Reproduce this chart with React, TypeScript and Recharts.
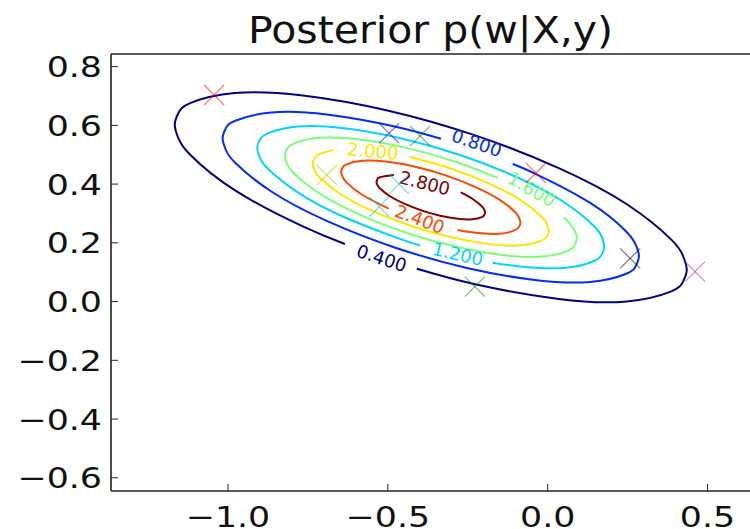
import React from 'react';
import { ComposedChart, Line, Scatter, XAxis, YAxis } from 'recharts';

// contour points, read along each line from one side of its label gap to the other
const c040 = [
  [-0.6344, 0.1959], [-0.7661, 0.2562], [-0.9791, 0.3793], [-1.1182, 0.4997], [-1.1543, 0.5541],
  [-1.1665, 0.6026], [-1.1543, 0.6435], [-1.1182, 0.6757], [-0.9791, 0.7101], [-0.7661, 0.7018],
  [-0.5047, 0.6516], [-0.2267, 0.5658], [0.0347, 0.4544], [0.2477, 0.3313], [0.3868, 0.2109],
  [0.4229, 0.1565], [0.4351, 0.108], [0.4229, 0.0671], [0.3868, 0.0349], [0.2477, 0.0005],
  [0.0347, 0.0088], [-0.2267, 0.059], [-0.409, 0.1118],
];
const c080 = [
  [-0.1093, 0.4684], [-0.0402, 0.4359], [0.133, 0.3358], [0.2461, 0.2379], [0.2754, 0.1937],
  [0.2854, 0.1542], [0.2754, 0.121], [0.2461, 0.0948], [0.133, 0.0668], [-0.0402, 0.0736],
  [-0.2527, 0.1144], [-0.4787, 0.1842], [-0.6912, 0.2747], [-0.8644, 0.3748], [-0.9775, 0.4727],
  [-1.0068, 0.5169], [-1.0168, 0.5564], [-1.0068, 0.5896], [-0.9775, 0.6158], [-0.8644, 0.6438],
  [-0.6912, 0.637], [-0.4787, 0.5962], [-0.3339, 0.5544],
];
const c120 = [
  [-0.3998, 0.1917], [-0.4599, 0.2126], [-0.6372, 0.2881], [-0.7816, 0.3716], [-0.8759, 0.4532],
  [-0.9004, 0.4901], [-0.9086, 0.523], [-0.9004, 0.5507], [-0.8759, 0.5725], [-0.7816, 0.5959],
  [-0.6372, 0.5902], [-0.4599, 0.5562], [-0.2715, 0.498], [-0.0942, 0.4225], [0.0502, 0.339],
  [0.1445, 0.2574], [0.169, 0.2205], [0.1772, 0.1876], [0.169, 0.1599], [0.1445, 0.1381],
  [0.0502, 0.1147], [-0.0942, 0.1204], [-0.1721, 0.1325],
];
const c160 = [
  [0.0503, 0.2872], [0.0632, 0.273], [0.0838, 0.242], [0.0908, 0.2143], [0.0838, 0.191],
  [0.0632, 0.1727], [-0.0161, 0.1531], [-0.1375, 0.1578], [-0.2865, 0.1864], [-0.4449, 0.2353],
  [-0.5939, 0.2988], [-0.7153, 0.369], [-0.7946, 0.4376], [-0.8152, 0.4686], [-0.8222, 0.4963],
  [-0.8152, 0.5196], [-0.7946, 0.5379], [-0.7153, 0.5575], [-0.5939, 0.5528], [-0.4449, 0.5242],
  [-0.2865, 0.4753], [-0.1563, 0.421],
];
const c200 = [
  [-0.4314, 0.4923], [-0.3016, 0.4523], [-0.1811, 0.401], [-0.0829, 0.3442], [-0.0188, 0.2887],
  [-0.0022, 0.2637], [0.0035, 0.2413], [-0.0022, 0.2224], [-0.0188, 0.2076], [-0.0829, 0.1917],
  [-0.1811, 0.1956], [-0.3016, 0.2187], [-0.4298, 0.2583], [-0.5503, 0.3096], [-0.6485, 0.3664],
  [-0.7126, 0.4219], [-0.7292, 0.4469], [-0.7349, 0.4693], [-0.7292, 0.4882], [-0.7126, 0.503],
  [-0.6692, 0.5166],
];
const c240 = [
  [-0.4973, 0.3164], [-0.5804, 0.3637], [-0.6291, 0.4058], [-0.6417, 0.4249], [-0.646, 0.4419],
  [-0.6417, 0.4562], [-0.6291, 0.4674], [-0.5804, 0.4795], [-0.5058, 0.4766], [-0.4144, 0.459],
  [-0.317, 0.429], [-0.2256, 0.39], [-0.151, 0.3469], [-0.1023, 0.3048], [-0.0897, 0.2857],
  [-0.0854, 0.2687], [-0.0897, 0.2544], [-0.1023, 0.2432], [-0.151, 0.2311], [-0.2256, 0.234],
  [-0.2814, 0.2434],
];
const c280 = [
  [-0.272, 0.3719], [-0.2357, 0.3502], [-0.2062, 0.3247], [-0.1985, 0.3132], [-0.1959, 0.3029],
  [-0.1985, 0.2942], [-0.2062, 0.2874], [-0.2357, 0.2801], [-0.2808, 0.2818], [-0.3362, 0.2925],
  [-0.3952, 0.3107], [-0.4506, 0.3343], [-0.4957, 0.3604], [-0.5252, 0.3859], [-0.5329, 0.3974],
  [-0.5355, 0.4077], [-0.5329, 0.4164], [-0.5252, 0.4232], [-0.4813, 0.4309],
];

const levelNames = ['0.400', '0.800', '1.200', '1.600', '2.000', '2.400', '2.800'];
const levelColors = ['#000080', '#002aff', '#00d4ff', '#7bff7b', '#ffe600', '#ff4800', '#800000'];
const levelPaths = [c040, c080, c120, c160, c200, c240, c280];

// inline label positions
const labelX = [-0.519, -0.2218, -0.2812, -0.0498, -0.547, -0.4, -0.3844];
const labelY = [0.148, 0.54, 0.162, 0.383, 0.513, 0.281, 0.4037];
const labelAngle = [18, 19, 13, 30, 5, 21, 14];

// posterior samples
const sampleX = [-1.0435, -0.496, -0.399, -0.037, -0.691, -0.465, -0.527, 0.258, 0.461, -0.228];
const sampleY = [0.7032, 0.573, 0.564, 0.438, 0.431, 0.4, 0.323, 0.147, 0.102, 0.051];
const sampleColors = ['#ff0000', '#0000ff', '#008000', '#ff0000', '#bfbf00', '#00bfbf', '#00bfbf', '#000000', '#bf00bf', '#008000'];

const xTicks = [-1.0, -0.5, 0.0, 0.5];
const yTicks = [-0.6, -0.4, -0.2, 0.0, 0.2, 0.4, 0.6, 0.8];

const FONT = '"DejaVu Sans", sans-serif';

const fmt = (v: number) => (v < 0 ? '\u2212' : '') + Math.abs(v).toFixed(1);

const contours = levelPaths.map((pts, i) => ({
  name: levelNames[i],
  color: levelColors[i],
  data: pts.map(([x, y]) => ({ x, y })),
}));

const labels = levelNames.map((text, i) => ({
  x: labelX[i],
  y: labelY[i],
  text,
  angle: labelAngle[i],
  color: levelColors[i],
}));

const samples = sampleX.map((x, i) => ({ x, y: sampleY[i], color: sampleColors[i] }));

function LeftTick(props: any) {
  const { x, y, payload } = props;
  return (
    <text
      transform={`translate(${x},${y + 10.5}) scale(1.2,1)`}
      textAnchor="end"
      fontSize={29}
      fontFamily={FONT}
      fill="#111"
    >
      {fmt(payload.value)}
    </text>
  );
}

function BottomTick(props: any) {
  const { x, y, payload } = props;
  return (
    <text
      transform={`translate(${x},${y + 43}) scale(1.2,1)`}
      textAnchor="middle"
      fontSize={29}
      fontFamily={FONT}
      fill="#111"
    >
      {fmt(payload.value)}
    </text>
  );
}

function Cross(props: any) {
  const { cx, cy, payload } = props;
  const r = 10;
  return (
    <g stroke={payload.color} strokeWidth={1.3} strokeOpacity={0.5}>
      <line x1={cx - r} y1={cy - r} x2={cx + r} y2={cy + r} />
      <line x1={cx - r} y1={cy + r} x2={cx + r} y2={cy - r} />
    </g>
  );
}

function ContourLabel(props: any) {
  const { cx, cy, payload } = props;
  return (
    <text
      transform={`translate(${cx},${cy}) rotate(${payload.angle})`}
      textAnchor="middle"
      dominantBaseline="central"
      fontSize={18}
      fontFamily={FONT}
      fill={payload.color}
    >
      {payload.text}
    </text>
  );
}

const axisStroke = { stroke: '#222', strokeWidth: 1.6 };
const tickStroke = { stroke: '#222', strokeWidth: 1 };

export default function App() {
  return (
    <div
      style={{
        position: 'fixed',
        left: 0,
        top: 0,
        width: 750,
        height: 529,
        overflow: 'hidden',
        background: '#fff',
      }}
    >
      <ComposedChart width={760} height={529} margin={{ top: 0, right: 0, bottom: 0, left: 0 }}>
        <XAxis
          dataKey="x"
          type="number"
          domain={[-1.366, 0.636]}
          allowDataOverflow
          ticks={xTicks}
          interval={0}
          height={38}
          tickSize={-7}
          tickMargin={0}
          tick={BottomTick}
          axisLine={axisStroke}
          tickLine={tickStroke}
        />
        <XAxis
          xAxisId="top"
          orientation="top"
          type="number"
          domain={[-1.366, 0.636]}
          allowDataOverflow
          ticks={xTicks}
          interval={0}
          height={54}
          tickSize={-7}
          tick={false}
          axisLine={axisStroke}
          tickLine={tickStroke}
        />
        <YAxis
          dataKey="y"
          type="number"
          domain={[-0.645, 0.843]}
          allowDataOverflow
          ticks={yTicks}
          interval={0}
          width={111}
          tickSize={-7}
          tickMargin={16}
          tick={LeftTick}
          axisLine={axisStroke}
          tickLine={tickStroke}
        />
        <YAxis
          yAxisId="right"
          orientation="right"
          type="number"
          domain={[-0.645, 0.843]}
          allowDataOverflow
          ticks={yTicks}
          interval={0}
          width={9}
          tickSize={-7}
          tick={false}
          axisLine={axisStroke}
          tickLine={tickStroke}
        />
        {contours.map((c) => (
          <Line
            key={c.name}
            data={c.data}
            dataKey="y"
            type="natural"
            stroke={c.color}
            strokeWidth={2}
            dot={false}
            activeDot={false}
            isAnimationActive={false}
          />
        ))}
        <Scatter data={labels} shape={ContourLabel} isAnimationActive={false} />
        <Scatter data={samples} shape={Cross} isAnimationActive={false} />
      </ComposedChart>
      <svg
        width={750}
        height={60}
        style={{ position: 'absolute', left: 0, top: 0, pointerEvents: 'none' }}
      >
        <text
          transform="translate(430.5,42.7) scale(1.08,1)"
          textAnchor="middle"
          fontSize={38}
          fontFamily={FONT}
          fill="#111"
        >
          Posterior p(w|X,y)
        </text>
      </svg>
    </div>
  );
}
